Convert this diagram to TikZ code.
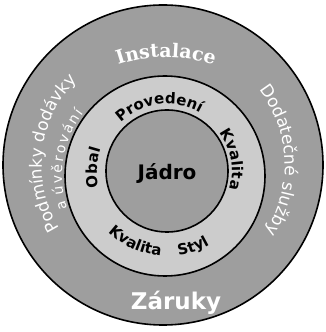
\documentclass[tikz,border=0pt]{standalone}
\usepackage{fontspec}
\newfontfamily\dvsans{DejaVu Sans}
\newfontfamily\dvserif{DejaVu Serif}
\usetikzlibrary{decorations.text}
\newcommand{\fsz}[1]{\fontsize{#1}{#1}\selectfont}
\newcommand{\midf}{\dvsans\bfseries\fsz{15pt}}
\newcommand{\outf}{\dvsans\fsz{17pt}}
\newcommand{\smallf}{\dvsans\fsz{14pt}}
\definecolor{outergray}{gray}{0.62}
\definecolor{midgray}{gray}{0.80}
\definecolor{innergray}{gray}{0.62}
\tikzset{
  ring/.style={draw=black, line width=1.6pt},
  arctext/.style={decorate, decoration={text along path, text align=center}},
  whitetext/.style={arctext, decoration={text color=white}},
}
\begin{document}
\begin{tikzpicture}[x=1pt,y=1pt]
\useasboundingbox (0,0) rectangle (326,332);
\fill[white] (0,0) rectangle (326,332);
\coordinate (O) at (163,167);
\coordinate (M) at (165,156);
\coordinate (I) at (167,161);
\coordinate (T) at (166,127);
\filldraw[ring, fill=outergray] (O) circle[radius=160pt];
\filldraw[ring, fill=midgray] (M) circle[radius=100pt];
\filldraw[ring, fill=innergray] (I) circle[radius=61pt];
\node[font=\dvsans\bfseries\fsz{20pt}] (core) at (167,158) {Jádro};
% middle ring
\path[arctext, decoration={text={|\midf|Provedení}}]
  (I) ++(160:67pt) arc[start angle=160, end angle=34, radius=67pt];
\path[arctext, decoration={text={|\midf|Kvalita}}]
  (I) ++(60:65pt) arc[start angle=60, end angle=-40, radius=65pt];
\path[arctext, decoration={text={|\midf|Obal}}]
  (I) ++(230:70pt) arc[start angle=230, end angle=125, radius=70pt];
\path[arctext, decoration={text={|\midf|Kvalita}}]
  (I) ++(200:85pt) arc[start angle=200, end angle=292, radius=85pt];
\path[arctext, decoration={text={|\midf|Styl}}]
  (I) ++(259:85pt) arc[start angle=259, end angle=319, radius=85pt];
% outer ring
\path[whitetext, decoration={text={|\dvserif\bfseries\fsz{19pt}|Instalace}}]
  (T) ++(125:148pt) arc[start angle=125, end angle=55, radius=148pt];
\path[whitetext, decoration={text={|\outf|Podmínky dodávky}}]
  (O) ++(240:121pt) arc[start angle=240, end angle=107, radius=121pt];
\path[whitetext, decoration={text={|\smallf|a {\kern2pt}ú{\kern2pt}v{\kern2pt}ě{\kern2pt}r{\kern2pt}o{\kern2pt}v{\kern2pt}á{\kern2pt}n{\kern2pt}í}}]
  (M) ++(230:103pt) arc[start angle=230, end angle=111, radius=103pt];
\path[whitetext, decoration={text={|\outf|Dodatečné služby}}]
  (O) ++(70:122pt) arc[start angle=70, end angle=-65, radius=122pt];
\node[font=\dvsans\bfseries\fsz{23pt}, text=white, anchor=base] (zaruky) at (176,22) {Záruky};
\end{tikzpicture}
\end{document}
